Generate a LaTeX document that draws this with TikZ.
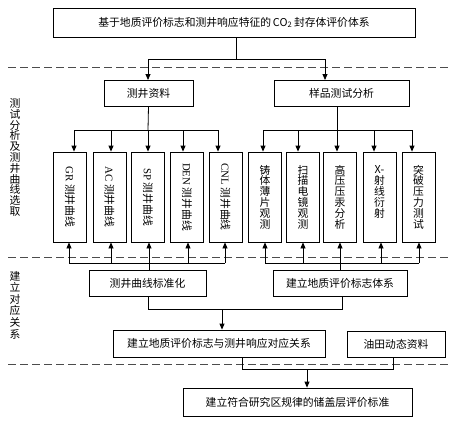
\documentclass[tikz,border=0pt]{standalone}
\usepackage{fontspec}
\setmainfont{Noto Sans CJK SC}
\newfontfamily\latser{Liberation Serif}
\usetikzlibrary{arrows.meta}
\begin{document}
\begin{tikzpicture}[x=1pt,y=-1pt,
  font=\fontsize{10.8}{10.8}\selectfont,
  bx/.style={draw,line width=0.8pt,inner sep=0pt,align=center},
  ln/.style={line width=0.8pt},
  ar/.style={line width=0.8pt,-{Triangle[length=6pt,width=5pt]}},
  sep/.style={draw=black!70,line width=0.8pt,dash pattern=on 8pt off 4pt},
  lbl/.style={align=center,inner sep=0pt}]
\useasboundingbox (0,0) rectangle (458,424);
% separators
\draw[sep] (8,67) -- (450,67);
\draw[sep] (8,257) -- (450,257);
\draw[sep] (8,364) -- (450,364);
% side labels
\node[lbl] (lab1) at (15,157.5) {测\\试\\分\\析\\及\\测\\井\\曲\\线\\选\\取};
\node[lbl,font=\fontsize{10.8}{11.6}\selectfont] (lab2) at (15,305) {建\\立\\对\\应\\关\\系};
% top
\node[bx,minimum width=362,minimum height=29] (top) at (234,22.5) {基于地质评价标志和测井响应特征的\,CO\textsubscript{2}\,封存体评价体系};
\node[bx,minimum width=89,minimum height=26] (well) at (148.5,93) {测井资料};
\node[bx,minimum width=135,minimum height=26] (samp) at (341.5,93) {样品测试分析};
\coordinate (j0) at (236,59);
\draw[ar] (top.south -| j0) -- (j0) -- (148,59) -- (148,80);
\draw[ar] (j0) -- (325,59) -- (325,80);
% vertical boxes left
\tikzset{vb/.style={bx,minimum width=33,minimum height=90}}
\node[vb] (gr) at (70,197) {};
\node[vb] (ac) at (109.5,197) {};
\node[vb] (sp) at (148,197) {};
\node[vb] (den) at (187,197) {};
\node[vb] (cnl) at (225.5,197) {};
\node[rotate=-90,inner sep=0pt] (grt) at (gr.center) {{\latser GR} 测井曲线};
\node[rotate=-90,inner sep=0pt] (act) at (ac.center) {{\latser AC} 测井曲线};
\node[rotate=-90,inner sep=0pt] (spt) at (sp.center) {{\latser SP} 测井曲线};
\node[rotate=-90,inner sep=0pt] (dent) at (den.center) {{\latser DEN} 测井曲线};
\node[rotate=-90,inner sep=0pt] (cnlt) at (cnl.center) {{\latser CNL} 测井曲线};
% vertical boxes right
\node[vb] (zt) at (265,197) {};
\node[vb] (sm) at (303,197) {};
\node[vb] (gy) at (340,197) {};
\node[vb] (xs) at (379.5,197) {};
\node[vb] (tp) at (418.5,197) {};
\node[lbl] (ztt) at (zt.center) {铸\\体\\薄\\片\\观\\测};
\node[lbl] (smt) at (sm.center) {扫\\描\\电\\镜\\观\\测};
\node[lbl] (gyt) at (gy.center) {高\\压\\压\\汞\\分\\析};
\node[lbl] (xst) at ([yshift=5pt]xs.center) {X-\\射\\线\\衍\\射};
\node[lbl] (tpt) at (tp.center) {突\\破\\压\\力\\测\\试};
% top distribution
\draw[ln] (well.south) -- (148,130);
\draw[ln] (74,130) -- (218,130);
\foreach \x/\n in {74/gr,111/ac,148/sp,183/den,218/cnl} \draw[ar] (\x,130) -- (\n.north -| \x,0);
\draw[ln] (samp.south -| 337,0) -- (337,130);
\draw[ln] (263,130) -- (412,130);
\foreach \x/\n in {263/zt,298/sm,337/gy,374/xs,412/tp} \draw[ar] (\x,130) -- (\n.north -| \x,0);
% standardization boxes
\node[bx,minimum width=117,minimum height=26] (std) at (147.5,283) {测井曲线标准化};
\node[bx,minimum width=134,minimum height=26] (geo) at (340,283) {建立地质评价标志体系};
\draw[ln] (69,263) -- (225,263);
\foreach \x/\n in {69/gr,111/ac,149/sp,188/den,225/cnl} \draw[ar] (\x,263) -- (\n.south -| \x,0);
\draw[ln] (std.north -| 149,0) -- (149,263);
\draw[ln] (265,263) -- (419,263);
\foreach \x/\n in {265/zt,303/sm,340/gy,381/xs,419/tp} \draw[ar] (\x,263) -- (\n.south -| \x,0);
\draw[ln] (geo.north) -- (340,263);
% relation
\node[bx,minimum width=212,minimum height=27] (rel) at (219,343.5) {建立地质评价标志与测井响应对应关系};
\node[bx,minimum width=98,minimum height=26] (oil) at (396,344) {油田动态资料};
\draw[ln] (std.south -| 148,0) -- (148,309) -- (342,309) -- (geo.south -| 342,0);
\draw[ar] (222,309) -- (rel.north -| 222,0);
% final
\node[bx,minimum width=229,minimum height=28] (fin) at (297.5,402) {建立符合研究区规律的储盖层评价标准};
\draw[ln] (rel.south -| 242,0) -- (242,369) -- (393,369) -- (oil.south -| 393,0);
\draw[ar] (307,369) -- (fin.north -| 307,0);
\end{tikzpicture}
\end{document}
